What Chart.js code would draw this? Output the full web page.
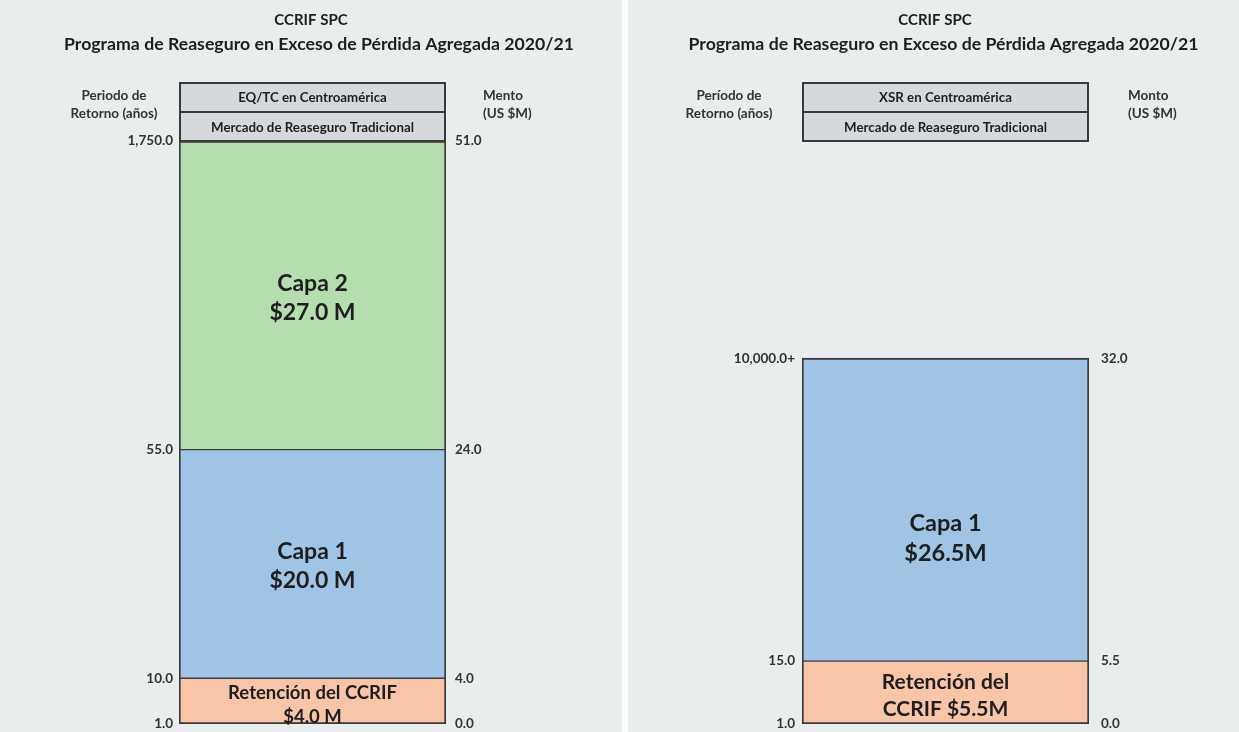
<!DOCTYPE html>
<html>
<head>
<meta charset="utf-8">
<script src="https://cdn.jsdelivr.net/npm/chart.js@4/dist/chart.umd.min.js"></script>
<style>
  html, body { margin: 0; padding: 0; background: #ffffff; width: 1239px; height: 732px; overflow: hidden; }
  canvas { position: absolute; top: 0; background: #e9edee; }
  #left { left: 0; }
  #right { left: 628px; }
</style>
</head>
<body>
<canvas id="left" width="622" height="732"></canvas>
<canvas id="right" width="611" height="732"></canvas>
<script>
// ---------- DATA ----------
const titleLines = ['CCRIF SPC', 'Programa de Reaseguro en Exceso de Pérdida Agregada 2020/21'];

// Left panel
const leftLayers = ['Retención del CCRIF', 'Capa 1', 'Capa 2'];
const leftAmounts = [4.0, 20.0, 27.0];
const leftBoundaries = [0, 4, 24, 51];
const leftReturnPeriods = ['1.0', '10.0', '55.0', '1,750.0'];
const leftAmountLabels = ['0.0', '4.0', '24.0', '51.0'];
const leftLayerText = [['Retención del CCRIF', '$4.0 M'], ['Capa 1', '$20.0 M'], ['Capa 2', '$27.0 M']];
const leftHeaders = ['EQ/TC en Centroamérica', 'Mercado de Reaseguro Tradicional'];
const leftAxisTitleL = ['Periodo de', 'Retorno (años)'];
const leftAxisTitleR = ['Mento', '(US $M)'];

// Right panel
const rightLayers = ['Retención del CCRIF', 'Capa 1'];
const rightAmounts = [5.5, 26.5];
const rightBoundaries = [0, 5.5, 32];
const rightReturnPeriods = ['1.0', '15.0', '10,000.0+'];
const rightAmountLabels = ['0.0', '5.5', '32.0'];
const rightLayerText = [['Retención del', 'CCRIF $5.5M'], ['Capa 1', '$26.5M']];
const rightHeaders = ['XSR en Centroamérica', 'Mercado de Reaseguro Tradicional'];
const rightAxisTitleL = ['Período de', 'Retorno (años)'];
const rightAxisTitleR = ['Monto', '(US $M)'];

// ---------- STYLE ----------
const FONT = 'Lato, "Open Sans", sans-serif';
const layerColors = ['#f8c5a8', '#9fc4e6', '#b5ddb0'];
const edge = '#3a3a3a';
const textDark = '#1e1e1e';
const AXIS_MAX = 51;

const decorPlugin = {
  id: 'decor',
  afterDraw(chart, args, o) {
    const ctx = chart.ctx;
    const ca = chart.chartArea;
    const W = chart.width;
    ctx.save();
    ctx.textBaseline = 'middle';
    // Title
    ctx.fillStyle = textDark;
    ctx.textAlign = 'center';
    ctx.font = 'bold 15px ' + FONT;
    ctx.fillText(o.title[0], W / 2 + o.titleShift[0], 20);
    ctx.font = 'bold 17.7px ' + FONT;
    ctx.fillText(o.title[1], W / 2 + o.titleShift[1], 44);
    // Header boxes
    const ys = [82, 112, 141];
    for (let i = 0; i < o.headers.length; i++) {
      ctx.fillStyle = '#d6d9db';
      ctx.fillRect(ca.left, ys[i], ca.right - ca.left, ys[i + 1] - ys[i]);
    }
    ctx.strokeStyle = edge;
    ctx.lineWidth = 2;
    ctx.strokeRect(ca.left + 1, ys[0] + 1, ca.right - ca.left - 2, ys[2] - ys[0] - 1);
    ctx.beginPath();
    ctx.moveTo(ca.left, ys[1]); ctx.lineTo(ca.right, ys[1]);
    ctx.stroke();
    ctx.fillStyle = textDark;
    ctx.font = 'bold 13.3px ' + FONT;
    for (let i = 0; i < o.headers.length; i++) {
      ctx.fillText(o.headers[i], (ca.left + ca.right) / 2, (ys[i] + ys[i + 1]) / 2 + 1);
    }
    // Axis titles
    ctx.font = 'bold 13.5px ' + FONT;
    ctx.fillStyle = '#333333';
    ctx.textAlign = 'center';
    o.axisL.forEach((t, i) => ctx.fillText(t, ca.left - o.axisLOffset, 96 + i * 18));
    ctx.textAlign = 'left';
    o.axisR.forEach((t, i) => ctx.fillText(t, ca.right + o.axisROffset, 96 + i * 18));
    // Layer labels
    ctx.textAlign = 'center';
    ctx.fillStyle = textDark;
    chart.data.datasets.forEach((ds, i) => {
      const bar = chart.getDatasetMeta(i).data[0];
      const lines = o.layerText[i];
      const size = o.labelSizes[i];
      const lh = o.labelLineHeights[i];
      ctx.font = 'bold ' + size + 'px ' + FONT;
      const cy = (bar.y + bar.base) / 2 + (o.labelShift[i] || 0);
      lines.forEach((t, k) => ctx.fillText(t, bar.x, cy + (k - (lines.length - 1) / 2) * lh));
    });
    ctx.restore();
  }
};

function zeroPadding(s) {
  s.paddingTop = 0; s.paddingBottom = 0;
}

function makePanel(id, cfg) {
  const n = cfg.amounts.length;
  const datasets = cfg.amounts.map((v, i) => ({
    label: cfg.layers[i],
    data: [v],
    backgroundColor: layerColors[i],
    borderColor: edge,
    borderWidth: { left: 2, right: 2, top: i === n - 1 ? 2 : 1, bottom: i === 0 ? 2 : 1 },
    borderSkipped: false,
    barPercentage: 1,
    categoryPercentage: 1,
    yAxisID: 'y'
  }));
  const tickFont = { family: FONT, size: 13.5, weight: 'bold' };
  new Chart(document.getElementById(id), {
    type: 'bar',
    data: { labels: [''], datasets },
    options: {
      responsive: false,
      animation: false,
      devicePixelRatio: 1,
      layout: { padding: { top: 141, bottom: 8, left: 0, right: 0 } },
      plugins: {
        legend: { display: false },
        tooltip: { enabled: false },
        decor: {
          title: titleLines,
          titleShift: cfg.titleShift,
          headers: cfg.headers,
          axisL: cfg.axisL, axisR: cfg.axisR,
          axisLOffset: cfg.axisLOffset, axisROffset: cfg.axisROffset,
          layerText: cfg.layerText,
          labelShift: cfg.labelShift,
          labelSizes: cfg.labelSizes,
          labelLineHeights: cfg.labelLineHeights
        }
      },
      scales: {
        x: { display: false, stacked: true },
        y: {
          stacked: true, position: 'left', min: 0, max: AXIS_MAX,
          grid: { display: false, drawTicks: false }, border: { display: false },
          afterBuildTicks: s => { s.ticks = cfg.boundaries.map(v => ({ value: v })); },
          afterFit: s => { s.width = cfg.leftWidth; zeroPadding(s); },
          ticks: { padding: cfg.leftPad, color: '#333333', font: tickFont, autoSkip: false,
                   callback: (v, i) => cfg.returnPeriods[i] }
        },
        y2: {
          position: 'right', min: 0, max: AXIS_MAX,
          grid: { display: false, drawTicks: false }, border: { display: false },
          afterBuildTicks: s => { s.ticks = cfg.boundaries.map(v => ({ value: v })); },
          afterFit: s => { s.width = cfg.rightWidth; zeroPadding(s); },
          ticks: { padding: cfg.rightPad, color: '#333333', font: tickFont, autoSkip: false,
                   callback: (v, i) => cfg.amountLabels[i] }
        }
      }
    },
    plugins: [decorPlugin]
  });
}

makePanel('left', {
  layers: leftLayers, amounts: leftAmounts, boundaries: leftBoundaries,
  returnPeriods: leftReturnPeriods, amountLabels: leftAmountLabels,
  layerText: leftLayerText, headers: leftHeaders,
  axisL: leftAxisTitleL, axisR: leftAxisTitleR,
  leftWidth: 179, rightWidth: 176, leftPad: 6, rightPad: 9,
  axisLOffset: 65, axisROffset: 37, titleShift: [0, 8],
  labelShift: [4, 2.5, 3],
  labelSizes: [18.5, 23, 23], labelLineHeights: [24, 29, 29]
});
makePanel('right', {
  layers: rightLayers, amounts: rightAmounts, boundaries: rightBoundaries,
  returnPeriods: rightReturnPeriods, amountLabels: rightAmountLabels,
  layerText: rightLayerText, headers: rightHeaders,
  axisL: rightAxisTitleL, axisR: rightAxisTitleR,
  leftWidth: 174, rightWidth: 150, leftPad: 7, rightPad: 12,
  axisLOffset: 73, axisROffset: 39, titleShift: [1.5, 10],
  labelShift: [3, 29],
  labelSizes: [21, 23.5], labelLineHeights: [27, 30]
});
</script>
</body>
</html>
